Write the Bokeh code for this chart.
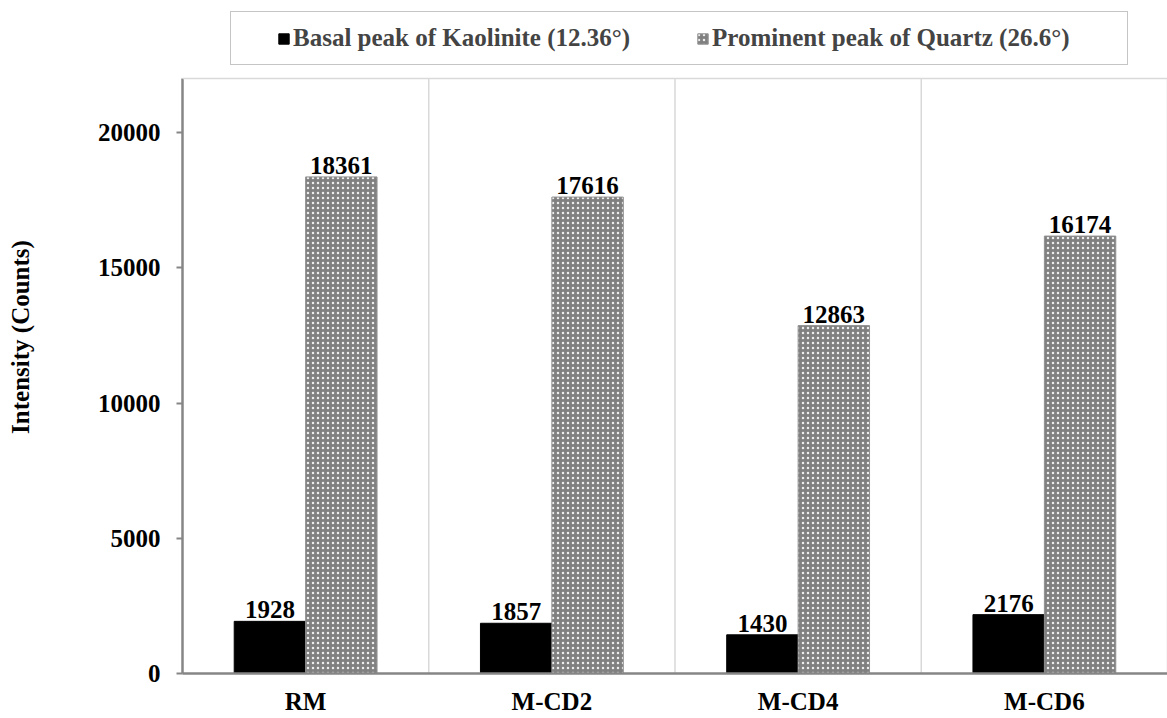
from bokeh.plotting import figure
from bokeh.models import (ColumnDataSource, FactorRange, Range1d, Span, Legend,
                          LegendItem, FixedTicker)
from bokeh.transform import dodge
from bokeh.core.properties import value
from bokeh.embed import file_html
from bokeh.resources import INLINE

categories = ["RM", "M-CD2", "M-CD4", "M-CD6"]
kaolinite = [1928, 1857, 1430, 2176]
quartz = [18361, 17616, 12863, 16174]
series_names = ["Basal peak of Kaolinite (12.36°)", "Prominent peak of Quartz (26.6°)"]
y_ticks = [0, 5000, 10000, 15000, 20000]
y_max = 22000

FONT = "Liberation Serif"
FS = "25px"

W, H = 1167, 718
LEFT, BOTTOM = 182, 45
PLOT_TOP = 78  # pixel row of the value-axis top (y_max)
frame_h = H - BOTTOM
# frame extends to top of canvas so that the legend above the plot area is not clipped
y_end = y_max * frame_h / (frame_h - PLOT_TOP)

src = ColumnDataSource(dict(
    cat=categories,
    kao=kaolinite,
    qtz=quartz,
    kao_txt=[str(v) for v in kaolinite],
    qtz_txt=[str(v) for v in quartz],
))

p = figure(width=W, height=H, x_range=FactorRange(*categories, range_padding=0),
           y_range=Range1d(0, y_end), output_backend="svg", toolbar_location=None,
           min_border_left=LEFT, min_border_right=0, min_border_top=0, min_border_bottom=BOTTOM)
p.outline_line_color = None
p.xgrid.visible = False
p.ygrid.visible = False

# category separators and top border of plot area
seps = list(range(1, len(categories) + 1))
p.segment(x0=seps, x1=seps, y0=[0] * len(seps), y1=[y_max] * len(seps),
          line_color="#d9d9d9", line_width=1.5)
p.add_layout(Span(location=y_max, dimension="width", line_color="#d9d9d9", line_width=1.5))

w = 0.29
r1 = p.vbar(x=dodge("cat", -w / 2, range=p.x_range), top="kao", width=w, source=src,
            fill_color="black", line_color="black")
r2 = p.vbar(x=dodge("cat", w / 2, range=p.x_range), top="qtz", width=w, source=src,
            fill_color="#808080", line_color="#909090", hatch_pattern="dot",
            hatch_color="#ececec", hatch_scale=5, hatch_weight=1.3)

for col, txt, off in [("kao", "kao_txt", -w / 2), ("qtz", "qtz_txt", w / 2)]:
    p.text(x=dodge("cat", off, range=p.x_range), y=col, text=txt, source=src,
           text_font=value(FONT), text_font_style="bold", text_font_size=FS,
           text_align="center", text_baseline="bottom", y_offset=-3, text_color="black")

# axes
p.yaxis.ticker = FixedTicker(ticks=y_ticks)
p.yaxis.bounds = (0, y_max)
p.yaxis.axis_label = "Intensity (Counts)"
for ax in (p.xaxis, p.yaxis):
    ax.axis_line_color = "#868686"
    ax.axis_line_width = 2.5
    ax.major_label_text_font = FONT
    ax.major_label_text_font_style = "bold"
    ax.major_label_text_font_size = FS
    ax.major_label_text_color = "black"
    ax.minor_tick_line_color = None
p.yaxis.major_tick_line_color = "#868686"
p.yaxis.major_tick_line_width = 2
p.yaxis.major_tick_out = 6
p.yaxis.major_tick_in = 0
p.yaxis.major_label_standoff = 16
p.yaxis.axis_label_text_font = FONT
p.yaxis.axis_label_text_font_style = "bold"
p.yaxis.axis_label_text_font_size = FS
p.yaxis.axis_label_text_color = "black"
p.yaxis.axis_label_standoff = 61
p.xaxis.major_tick_line_color = None
p.xaxis.major_tick_out = 0
p.xaxis.major_label_standoff = 14

# legend box (frame)
dummy = p.scatter(x=[], y=[], fill_alpha=0, line_alpha=0)
box = Legend(items=[LegendItem(label=" ", renderers=[dummy])], location=(48, frame_h - 65),
             padding=0, glyph_width=1, glyph_height=1, label_standoff=0,
             label_width=895, label_height=52, border_line_color="#8c8c8c",
             border_line_width=1.5, background_fill_color="white", margin=0)
p.add_layout(box, "center")

leg = Legend(items=[LegendItem(label=series_names[0], renderers=[r1]),
                    LegendItem(label=series_names[1], renderers=[r2])],
             orientation="horizontal", location=(95, frame_h - 52), padding=0, spacing=66,
             glyph_width=13, glyph_height=13, label_standoff=3, label_height=26,
             label_text_font=FONT, label_text_font_style="bold", label_text_font_size=FS,
             border_line_alpha=0, background_fill_alpha=0, margin=0)
p.add_layout(leg, "center")

open("out.html", "w").write(file_html(p, INLINE))
